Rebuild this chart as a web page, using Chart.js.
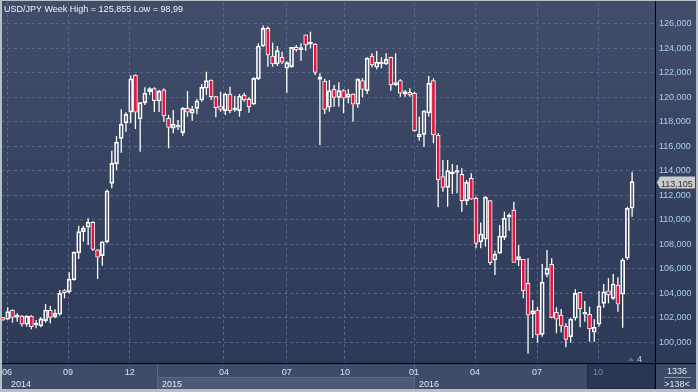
<!DOCTYPE html>
<html>
<head>
<meta charset="utf-8">
<script src="https://cdn.jsdelivr.net/npm/chart.js@4.4.0/dist/chart.umd.min.js"></script>
<style>
  html, body { margin: 0; padding: 0; background: #2e3a56; }
</style>
</head>
<body>
<canvas id="fxChart" width="698" height="392"></canvas>
<script>
// USD/JPY weekly candles
const opens = [102.00, 101.87, 102.63, 102.05, 102.14, 101.46, 102.14, 101.40, 101.33, 101.76,
  102.63, 102.08, 102.28, 104.20, 104.12, 105.08, 107.30, 109.02, 109.38, 109.79,
  107.53, 107.06, 108.20, 112.97, 114.55, 116.64, 117.90, 118.78, 121.80, 118.22,
  119.55, 120.45, 120.70, 119.69, 120.59, 118.28, 117.46, 117.55, 117.10, 119.09,
  118.69, 119.09, 119.77, 120.73, 121.40, 120.04, 119.28, 118.90, 120.26, 118.97,
  118.90, 120.18, 119.83, 119.42, 121.49, 124.18, 125.62, 123.36, 122.71, 123.26,
  122.36, 122.49, 124.07, 123.88, 125.08, 124.32, 124.34, 121.46, 121.32, 119.18,
  120.64, 119.99, 120.53, 119.99, 120.26, 119.42, 121.35, 120.53, 123.36, 122.44,
  122.71, 122.71, 123.26, 121.00, 121.35, 120.26, 120.40, 120.32, 116.78, 116.97,
  118.73, 121.35, 116.91, 113.51, 112.64, 113.75, 113.85, 113.71, 111.55, 113.38,
  111.75, 108.20, 108.40, 111.55, 106.71, 107.26, 108.56, 110.20, 110.79, 106.71,
  106.76, 104.80, 102.30, 102.63, 100.64, 105.54, 106.36, 102.44, 102.22, 101.32,
  100.45, 101.95, 104.07, 102.28, 102.28, 100.81, 101.46, 103.17, 104.20, 103.58,
  104.67, 103.91, 106.85, 110.93];
const highs = [102.05, 102.85, 102.68, 102.36, 102.20, 102.20, 102.20, 101.81, 102.03, 103.12,
  102.95, 102.68, 104.26, 104.32, 105.70, 107.40, 109.51, 109.51, 110.11, 109.87,
  107.60, 108.25, 112.47, 115.63, 116.83, 119.01, 118.78, 121.76, 121.85, 119.60,
  120.81, 120.81, 120.81, 120.60, 120.70, 118.55, 118.96, 118.14, 119.20, 120.51,
  119.28, 119.85, 121.08, 122.08, 121.45, 120.10, 120.45, 120.37, 120.86, 120.10,
  120.26, 120.37, 119.99, 121.62, 124.40, 125.86, 125.76, 124.45, 124.18, 123.71,
  122.93, 124.10, 124.26, 124.40, 125.10, 125.35, 124.40, 121.95, 121.50, 121.40,
  121.00, 121.22, 120.64, 120.64, 120.30, 121.54, 121.54, 123.26, 123.58, 123.77,
  123.26, 123.58, 123.30, 123.58, 121.46, 120.59, 120.72, 120.45, 118.41, 118.96,
  121.73, 121.54, 117.05, 114.87, 114.87, 114.55, 114.47, 114.20, 113.24, 113.79,
  111.88, 109.76, 111.93, 111.60, 107.47, 109.57, 110.65, 110.52, 111.47, 107.93,
  106.80, 106.85, 103.44, 102.90, 106.38, 107.53, 106.85, 102.85, 102.71, 101.54,
  102.00, 104.32, 104.10, 103.36, 102.90, 101.87, 104.18, 104.75, 105.22, 105.57,
  105.30, 106.85, 111.06, 113.92];
const lows = [101.75, 101.81, 101.59, 101.67, 101.27, 101.27, 101.05, 101.14, 101.22, 101.59,
  101.54, 101.95, 102.16, 103.58, 104.00, 105.04, 106.79, 108.20, 107.93, 107.47,
  105.16, 106.24, 108.07, 112.56, 114.06, 115.47, 117.18, 117.90, 117.40, 115.55,
  119.36, 120.18, 118.78, 118.80, 118.00, 115.83, 117.05, 117.32, 116.86, 118.40,
  118.08, 118.60, 119.63, 120.18, 119.77, 118.36, 118.82, 118.55, 118.69, 118.82,
  118.41, 119.63, 118.73, 119.36, 121.40, 124.10, 122.49, 122.49, 122.55, 122.71,
  120.37, 122.40, 123.70, 122.98, 123.80, 123.99, 121.81, 116.10, 118.63, 118.82,
  119.22, 119.22, 118.69, 119.50, 118.00, 119.14, 119.99, 120.26, 122.44, 122.28,
  122.36, 122.63, 120.53, 120.91, 120.04, 120.04, 120.04, 117.18, 116.45, 115.96,
  118.41, 116.24, 111.01, 112.29, 111.06, 112.10, 112.15, 110.65, 111.20, 111.60,
  107.67, 107.67, 107.80, 106.30, 105.49, 107.20, 108.34, 109.10, 106.50, 106.22,
  103.58, 99.07, 100.35, 99.96, 100.45, 105.30, 101.95, 100.73, 100.78, 99.58,
  99.96, 101.76, 101.22, 101.67, 100.04, 100.04, 101.27, 102.82, 103.17, 103.44,
  102.49, 101.18, 106.71, 110.24];
const closes = [101.80, 102.49, 102.03, 102.10, 101.46, 102.14, 101.27, 101.50, 101.90, 102.63,
  102.03, 102.36, 103.99, 104.04, 105.13, 107.34, 109.02, 109.30, 109.79, 107.58,
  106.93, 108.20, 112.34, 114.60, 116.32, 117.79, 118.60, 121.49, 118.77, 119.55,
  120.32, 120.70, 119.71, 120.50, 118.47, 117.54, 117.79, 117.65, 119.09, 118.77,
  119.01, 119.69, 120.81, 121.35, 120.04, 119.14, 119.01, 120.26, 118.90, 119.00,
  120.10, 119.77, 119.22, 121.54, 124.18, 125.62, 123.45, 122.71, 123.80, 122.85,
  122.82, 124.07, 123.85, 123.92, 124.26, 124.36, 122.03, 121.67, 119.01, 120.53,
  119.99, 120.53, 119.91, 120.26, 119.42, 121.46, 120.64, 123.18, 122.63, 122.85,
  122.85, 123.09, 121.00, 121.20, 120.32, 120.45, 120.18, 117.27, 116.97, 118.87,
  121.13, 116.91, 113.24, 112.64, 114.00, 113.80, 113.90, 111.55, 113.05, 111.67,
  108.07, 108.83, 111.83, 106.49, 107.18, 108.67, 110.11, 110.38, 106.52, 106.98,
  104.18, 102.20, 102.55, 100.59, 104.89, 106.03, 102.03, 101.87, 101.32, 100.23,
  101.87, 103.99, 102.71, 102.32, 101.08, 101.22, 102.95, 104.12, 103.85, 104.75,
  103.10, 106.71, 110.93, 113.105];

// axis labels (positions are bar indices)
const monthTicks = [0.85, 13.75, 26.8, 46.7, 60.0, 72.3, 86.9, 99.8, 112.9, 125.8];
const monthLabels = ['06', '09', '12', '04', '07', '10', '01', '04', '07', '10'];
const yearStarts = [-0.21, 32.6, 86.9];
const yearLabels = ['2014', '2015', '2016'];
const priceTicks = [100, 102, 104, 106, 108, 110, 112, 114, 116, 118, 120, 122, 124, 126];
const title = 'USD/JPY Week High = 125,855 Low = 98,99';

const FONT = '"Liberation Sans", Arial, sans-serif';
const RED = '#e3153e';
const GRID = '#58668a';
const fmt = v => v.toFixed(3).replace('.', ',');

const idx = opens.map((o, i) => i);
const bodies = idx.map(i => ({ x: i, y: [opens[i], closes[i]] }));
const upperWicks = idx.map(i => ({ x: i, y: [Math.max(opens[i], closes[i]), highs[i]] }));
const lowerWicks = idx.map(i => ({ x: i, y: [lows[i], Math.min(opens[i], closes[i])] }));
const bodyColors = idx.map(i => closes[i] < opens[i] ? RED : 'rgba(0,0,0,0)');

// panels behind the chart
const backdrop = {
  id: 'backdrop',
  beforeDraw(chart) {
    const { ctx, chartArea: a, scales: { x } } = chart;
    const W = chart.width;
    ctx.save();
    const g = ctx.createLinearGradient(0, 0, 0, a.bottom);
    g.addColorStop(0, '#414d69');
    g.addColorStop(1, '#2c3957');
    ctx.fillStyle = g;
    ctx.fillRect(0, 0, W, a.bottom);

    const top = a.bottom, mid = a.bottom + 14, bot = 389;
    ctx.fillStyle = '#3f4c68';
    ctx.fillRect(0, top, W, bot - top);

    const darkStart = x.getPixelForValue(123.47);
    for (let k = 0; k < yearStarts.length; k++) {
      const x0 = k === 0 ? 0 : Math.round(x.getPixelForValue(yearStarts[k]));
      const x1 = k + 1 < yearStarts.length ? Math.round(x.getPixelForValue(yearStarts[k + 1])) : darkStart;
      if (k % 2 === 1) {
        ctx.fillStyle = '#4d5a77';
        ctx.fillRect(x0, mid, x1 - x0, bot - mid);
        ctx.fillStyle = '#5b6884';
        ctx.fillRect(x0, mid, x1 - x0, 1);
      }
      if (k > 0) {
        ctx.fillStyle = '#5b6884';
        ctx.fillRect(x0, top, 1, bot - top);
      }
      ctx.fillStyle = '#e4e9f1';
      ctx.font = '9px ' + FONT;
      ctx.textBaseline = 'alphabetic';
      ctx.fillText(yearLabels[k], (k === 0 ? 11 : x0 + 5), 387);
    }
    ctx.fillStyle = '#2a3652';
    ctx.fillRect(darkStart, top, a.right - darkStart, bot - top);
    ctx.strokeStyle = '#222c44';
    ctx.strokeRect(darkStart + 0.5, top + 0.5, a.right - darkStart - 1, bot - top - 1);

    ctx.fillStyle = '#3c4965';
    ctx.fillRect(a.right, top, W - a.right, bot - top);
    ctx.restore();
  },
  afterDraw(chart) {
    const { ctx, chartArea: a, scales: { y } } = chart;
    const W = chart.width, H = chart.height;
    ctx.save();
    // separators
    ctx.fillStyle = '#000';
    ctx.fillRect(a.right, 0, 1, 389);
    ctx.fillRect(0, a.bottom, W, 1);

    // title
    ctx.font = '9px ' + FONT;
    ctx.fillStyle = '#eef1f6';
    ctx.textBaseline = 'alphabetic';
    ctx.textAlign = 'left';
    ctx.fillText(title, 4, 12);

    // last price tag
    const last = closes[closes.length - 1];
    const py = Math.round(y.getPixelForValue(last)) + 0.5;
    ctx.fillStyle = '#c9cbcf';
    ctx.beginPath();
    ctx.moveTo(657, py);
    ctx.lineTo(660, py - 6);
    ctx.lineTo(695, py - 6);
    ctx.lineTo(695, py + 6);
    ctx.lineTo(660, py + 6);
    ctx.closePath();
    ctx.fill();
    ctx.fillStyle = '#333';
    ctx.fillText(fmt(last), 661, py + 4);

    // small marker
    ctx.fillStyle = '#5a6680';
    ctx.beginPath();
    ctx.moveTo(628, 361); ctx.lineTo(634, 361); ctx.lineTo(631, 357); ctx.closePath();
    ctx.fill();
    ctx.fillStyle = '#c8d0de';
    ctx.fillText('4', 637, 362);

    // corner box
    ctx.textAlign = 'center';
    ctx.fillStyle = '#dfe5ee';
    ctx.fillText('1336', 677, 374);
    ctx.fillText('>138<', 677, 387);
    ctx.fillStyle = '#8a96ac';
    ctx.fillRect(664, 377, 27, 1);

    // outer frame
    ctx.fillStyle = '#b9bdc5';
    ctx.fillRect(0, 0, 2, H);
    ctx.fillRect(W - 2, 0, 2, H);
    ctx.fillRect(0, 389, W, 3);
    ctx.fillRect(0, 0, W, 1);
    ctx.restore();
  }
};

const noPad = s => { s.paddingTop = 0; s.paddingBottom = 0; s.paddingLeft = 0; s.paddingRight = 0; };

const ctx = document.getElementById('fxChart').getContext('2d');
const fxChart = new Chart(ctx, {
  type: 'bar',
  data: {
    datasets: [
      {
        label: 'body',
        data: bodies,
        backgroundColor: bodyColors,
        borderColor: '#ffffff',
        borderWidth: 1,
        borderSkipped: false,
        barThickness: 4,
        minBarLength: 2,
        grouped: false,
        order: 0
      },
      {
        label: 'upper',
        data: upperWicks,
        backgroundColor: '#ffffff',
        borderWidth: 0,
        inflateAmount: 0,
        barThickness: 1.3,
        grouped: false,
        order: 1
      },
      {
        label: 'lower',
        data: lowerWicks,
        backgroundColor: '#ffffff',
        borderWidth: 0,
        inflateAmount: 0,
        barThickness: 1.3,
        grouped: false,
        order: 1
      }
    ]
  },
  options: {
    responsive: false,
    animation: false,
    devicePixelRatio: 1,
    layout: { padding: { left: 2, top: 2, right: 0, bottom: 0 } },
    plugins: {
      legend: { display: false },
      tooltip: { enabled: false }
    },
    scales: {
      x: {
        type: 'linear',
        offset: false,
        min: -0.21,
        max: 137.84,
        afterBuildTicks: s => { s.ticks = monthTicks.map(v => ({ value: v })); },
        afterFit: s => { s.height = 29; noPad(s); },
        grid: { color: GRID, drawTicks: false, offset: false },
        border: { display: false, dash: [3, 3] },
        ticks: {
          autoSkip: false,
          maxRotation: 0,
          padding: 4,
          font: { family: FONT, size: 9 },
          color: c => c.index === monthLabels.length - 1 ? '#7d8cab' : '#d6e2f2',
          callback: (v, i) => monthLabels[i]
        }
      },
      y: {
        position: 'right',
        min: 98.3,
        max: 127.77,
        afterBuildTicks: s => { s.ticks = priceTicks.map(v => ({ value: v })); },
        afterFit: s => { s.width = 43; noPad(s); },
        grid: { color: GRID, drawTicks: false },
        border: { display: false, dash: [3, 3] },
        ticks: {
          padding: 4,
          font: { family: FONT, size: 9 },
          color: '#a9cdf2',
          callback: v => fmt(v)
        }
      }
    }
  },
  plugins: [backdrop]
});
</script>
</body>
</html>
